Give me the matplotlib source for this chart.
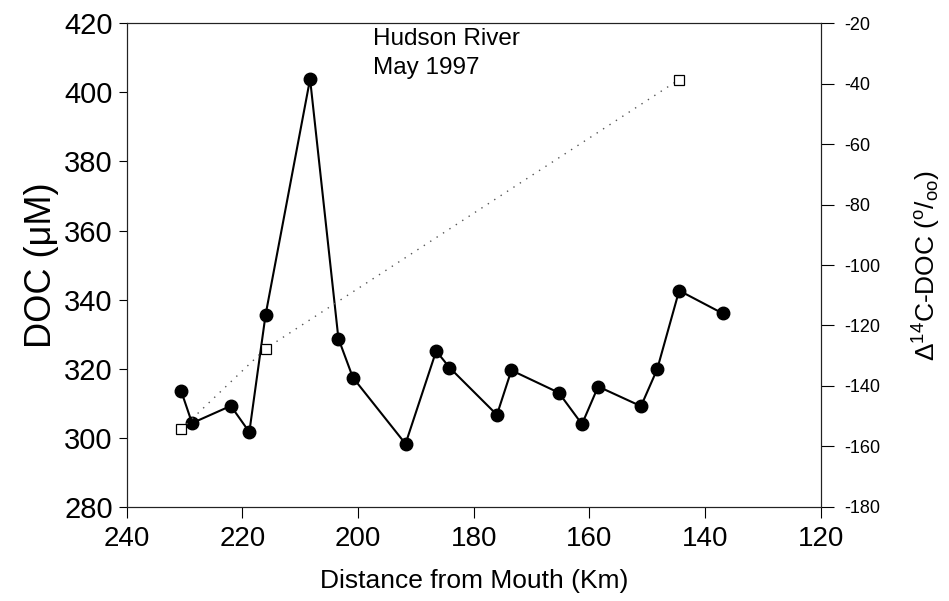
import matplotlib
matplotlib.use('Agg')
import matplotlib.pyplot as plt

# DOC along the river (solid circles)
dist_doc = [230.6, 228.7, 222.0, 218.8, 216.0, 208.3, 203.4, 200.9, 191.8, 186.5,
            184.2, 176.0, 173.5, 165.3, 161.3, 158.5, 151.1, 148.3, 144.5, 137.0]
doc = [313.6, 304.2, 309.2, 301.6, 335.5, 403.9, 328.7, 317.4, 298.2, 325.1,
       320.3, 306.6, 319.5, 313.0, 303.9, 314.8, 309.1, 319.8, 342.6, 336.0]

# radiocarbon of DOC (open squares)
dist_c14 = [230.6, 216.0, 144.6]
c14 = [-154.4, -127.7, -38.7]

x_ticks = [240, 220, 200, 180, 160, 140, 120]
doc_ticks = [280, 300, 320, 340, 360, 380, 400, 420]
c14_ticks = [-180, -160, -140, -120, -100, -80, -60, -40, -20]

plt.rcParams['font.family'] = ['Liberation Sans', 'DejaVu Sans']
plt.rcParams['axes.unicode_minus'] = False
plt.rcParams['mathtext.fontset'] = 'custom'
plt.rcParams['mathtext.rm'] = 'Liberation Sans'
plt.rcParams['mathtext.it'] = 'Liberation Sans'

fig = plt.figure(figsize=(9.49, 6.01), dpi=100)
ax = fig.add_axes([0.1335, 0.157, 0.7315, 0.804])
ax2 = ax.twinx()

ax.plot(dist_doc, doc, color='black', lw=1.5, marker='o', ms=9,
        markerfacecolor='black', markeredgecolor='black', zorder=3)
ax2.plot(dist_c14, c14, color='#555555', lw=1.0, linestyle=(0, (1, 4.5)),
         marker='s', ms=7.5, markerfacecolor='white', markeredgecolor='black',
         markeredgewidth=0.9, zorder=3)

ax.set_xlim(240, 120)
ax.set_ylim(280, 420)
ax2.set_ylim(-180, -20)

ax.set_xticks(x_ticks)
ax.set_yticks(doc_ticks)
ax2.set_yticks(c14_ticks)

for a in (ax, ax2):
    for s in a.spines.values():
        s.set_linewidth(0.8)
        s.set_color('#222222')

ax.tick_params(axis='y', direction='out', length=6, width=0.8, pad=4,
               labelsize=21)
ax.tick_params(axis='x', direction='out', length=8, width=0.8, pad=6,
               labelsize=20)
ax2.tick_params(axis='y', direction='out', length=9, width=0.8, pad=8,
                labelsize=13)

ax.set_xlabel('Distance from Mouth (Km)', fontsize=19, labelpad=12)
ax.set_ylabel('DOC (\u03bcM)', fontsize=26, labelpad=4)
ax2.set_ylabel(r'$\Delta^{14}$C-DOC ($^{\mathrm{o}}$/$_{\mathrm{oo}}$)',
               fontsize=19, labelpad=22)

ax.text(0.355, 0.99, 'Hudson River\nMay 1997', transform=ax.transAxes,
        ha='left', va='top', fontsize=17.5, linespacing=1.4)

fig.savefig('out.png', dpi=100)
